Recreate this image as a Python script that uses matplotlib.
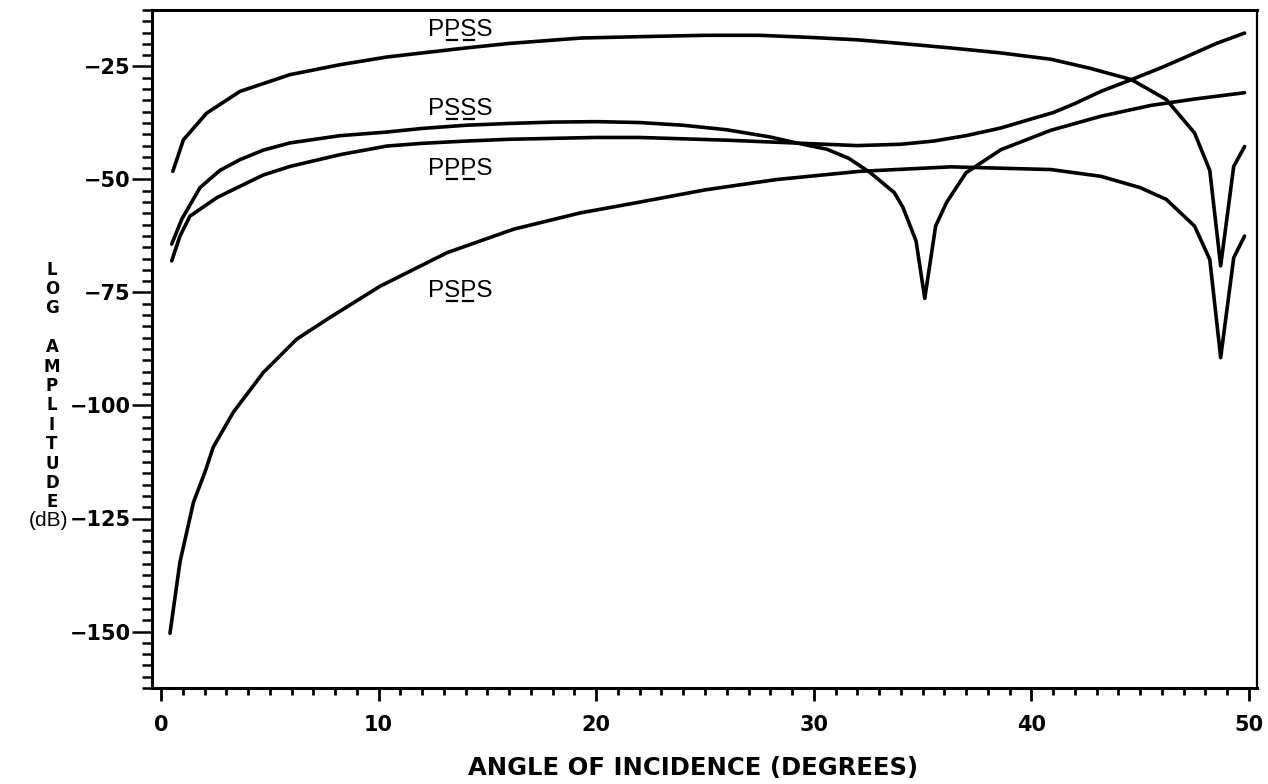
import matplotlib
matplotlib.use("Agg")
import matplotlib.pyplot as plt
from matplotlib.ticker import MultipleLocator
from matplotlib.lines import Line2D

# Angle of incidence (degrees) and log amplitude (dB) for each converted-wave path
ppss_deg = [0.54, 1.03, 2.10, 3.63, 5.93, 8.23, 10.38, 12.0, 14.0, 16.0, 19.3, 22.0,
            25.0, 27.5, 30.0, 32.0, 34.0, 36.3, 38.6, 40.9, 42.7, 44.6, 46.2, 47.5,
            48.2, 48.7, 49.3, 49.8]
ppss_db = [-48.2, -41.2, -35.3, -30.5, -26.8, -24.6, -22.9, -22.0, -20.9, -19.9, -18.7,
           -18.4, -18.1, -18.1, -18.6, -19.1, -19.9, -20.9, -22.0, -23.4, -25.4, -27.9,
           -32.3, -39.7, -48.0, -69.1, -47.1, -42.7]

psss_deg = [0.49, 0.95, 1.79, 2.7, 3.63, 4.7, 5.93, 8.23, 10.38, 12.0, 14.0, 16.0, 18.0,
            20.0, 22.0, 24.0, 26.0, 28.0, 29.1, 30.6, 31.6, 32.6, 33.7, 34.1, 34.7,
            35.1, 35.6, 36.1, 37.0, 38.6, 40.9, 43.2, 45.5, 47.5, 49.8]
psss_db = [-64.3, -58.8, -51.8, -48.0, -45.6, -43.5, -41.9, -40.3, -39.5, -38.7, -38.0,
           -37.6, -37.3, -37.2, -37.4, -38.0, -39.0, -40.6, -41.8, -43.3, -45.3, -48.5,
           -52.9, -56.2, -63.6, -76.3, -60.3, -55.1, -48.5, -43.4, -39.1, -36.0, -33.6,
           -32.2, -30.8]

ppps_deg = [0.49, 0.87, 1.33, 2.57, 3.63, 4.7, 5.93, 8.23, 10.38, 12.0, 14.0, 16.0, 18.0,
            20.0, 22.0, 24.0, 26.0, 28.0, 30.0, 32.0, 34.0, 35.5, 37.0, 38.6, 40.0, 41.0,
            42.0, 43.2, 44.6, 46.0, 47.1, 48.5, 49.8]
ppps_db = [-68.0, -62.5, -58.1, -54.0, -51.5, -49.0, -47.1, -44.5, -42.6, -42.0, -41.5,
           -41.1, -40.9, -40.7, -40.7, -41.0, -41.3, -41.7, -42.1, -42.5, -42.2, -41.5,
           -40.3, -38.6, -36.6, -35.2, -33.2, -30.5, -27.9, -25.2, -22.9, -19.9, -17.6]

psps_deg = [0.41, 0.87, 1.49, 2.02, 2.40, 3.32, 4.70, 6.24, 7.77, 10.07, 13.14, 16.2,
            19.26, 22.0, 25.0, 28.3, 32.1, 36.3, 40.9, 43.2, 45.0, 46.2, 47.5, 48.2,
            48.7, 49.3, 49.8]
psps_db = [-150.4, -134.6, -121.4, -114.7, -109.2, -101.5, -92.7, -85.3, -80.5, -73.6,
           -66.2, -61.0, -57.4, -55.0, -52.3, -50.0, -48.2, -47.2, -47.8, -49.3, -51.8,
           -54.4, -60.3, -67.7, -89.4, -67.3, -62.5]

# Curve labels: text, left edge (deg), baseline (dB), indices of underlined letters
label_names = ["PPSS", "PSSS", "PPPS", "PSPS"]
label_x = [12.28, 12.28, 12.28, 12.25]
label_y = [-18.2, -35.65, -48.9, -76.0]
underlined = [(1, 2), (1, 2), (1, 2), (1, 2)]

x_ticks = [0, 10, 20, 30, 40, 50]
y_ticks = [-150, -125, -100, -75, -50, -25]

W, H, DPI = 1268, 784, 100
fig = plt.figure(figsize=(W / DPI, H / DPI), dpi=DPI)
ax = fig.add_axes([151.7 / W, 1 - 688 / H, (1257 - 151.7) / W, (688 - 10) / H])

for xs, ys in [(ppss_deg, ppss_db), (psss_deg, psss_db),
               (ppps_deg, ppps_db), (psps_deg, psps_db)]:
    ax.plot(xs, ys, color="black", lw=2.6, solid_joinstyle="round",
            solid_capstyle="round")

ax.set_xlim(-0.43, 50.37)
ax.set_ylim(-162.5, -12.5)

tick_font = dict(family="DejaVu Sans", weight="bold", size=15)
ax.set_xticks(x_ticks)
ax.set_xticklabels([str(v) for v in x_ticks], fontdict=tick_font)
ax.set_yticks(y_ticks)
ax.set_yticklabels([f"\u2212{abs(v)}" for v in y_ticks], fontdict=tick_font)
ax.xaxis.set_minor_locator(MultipleLocator(1))
ax.yaxis.set_minor_locator(MultipleLocator(2.5))
ax.tick_params(axis="x", which="major", direction="out", length=9.5, width=2.0, pad=10)
ax.tick_params(axis="x", which="minor", direction="out", length=5, width=2.0)
ax.tick_params(axis="y", which="major", direction="out", length=14.5, width=1.8, pad=0.5)
ax.tick_params(axis="y", which="minor", direction="out", length=7, width=1.8)
for side in ["left", "bottom", "top"]:
    ax.spines[side].set_linewidth(2.2)
ax.spines["right"].set_linewidth(1.6)

fig.text(693 / W, 1 - 768 / H, "ANGLE OF INCIDENCE (DEGREES)", ha="center",
         va="center", family="DejaVu Sans", weight="bold", size=17.5)

# Stacked vertical axis title
fig.text(52 / W, 1 - 386 / H, "L\nO\nG\n\nA\nM\nP\nL\nI\nT\nU\nD\nE", ha="center",
         va="center", family="DejaVu Sans", weight="bold", size=12, linespacing=1.1)
fig.text(68 / W, 1 - 521 / H, "(dB)", ha="right", va="center",
         family="Liberation Sans", size=15)

# Curve labels with dashed underlines beneath selected letters
label_font = dict(family="Liberation Sans", size=17.5)
renderer = fig.canvas.get_renderer()
for name, lx, ly, idx in zip(label_names, label_x, label_y, underlined):
    t = ax.text(lx, ly, name, ha="left", va="baseline", **label_font)
    prop = t.get_fontproperties()
    x0, y0 = ax.transData.transform((lx, ly))
    for i in idx:
        a = renderer.get_text_width_height_descent(name[:i], prop, ismath=False)[0] if i else 0
        b = renderer.get_text_width_height_descent(name[:i + 1], prop, ismath=False)[0]
        c = x0 + (a + b) / 2
        p0 = ax.transData.inverted().transform((c - 5, y0 - 4))
        p1 = ax.transData.inverted().transform((c + 5, y0 - 4))
        ax.add_line(Line2D([p0[0], p1[0]], [p0[1], p1[1]], color="black", lw=1.6))

fig.savefig("out.png", dpi=DPI)
